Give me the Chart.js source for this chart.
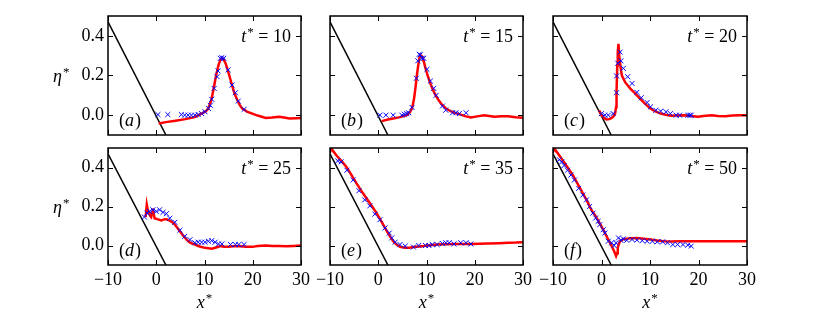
<!DOCTYPE html>
<html>
<head>
<meta charset="utf-8">
<script src="https://cdn.jsdelivr.net/npm/chart.js@4"></script>
<style>
  html, body { margin: 0; padding: 0; background: #fff; }
  #wrap { position: relative; width: 830px; height: 332px; }
  #wrap canvas { position: absolute; left: 0; top: 0; }
</style>
</head>
<body>
<div id="wrap"></div>
<script>
// ticks
const xTicks = [-10, 0, 10, 20, 30];
const yTicks = [0, 0.2, 0.4];

// sloping beach (same in every panel)
const beachX = [-10, 2];
const beachY = [0.47, -0.1];

// (a) t* = 10
const simXa = [0.5, 2, 4, 6, 8, 9.4, 10.3, 10.8, 11.4, 11.9, 12.4, 12.9, 13.3, 13.6, 14, 14.4, 14.7, 15.2, 15.7, 16.2, 16.8, 17.3, 17.8, 18.8, 19.9, 21, 22.7, 24, 25.5, 26.5, 27.6, 29, 30];
const simYa = [-0.042, -0.035, -0.028, -0.02, -0.01, 0.008, 0.02, 0.034, 0.075, 0.135, 0.2, 0.253, 0.28, 0.287, 0.28, 0.26, 0.236, 0.195, 0.152, 0.11, 0.076, 0.052, 0.034, 0.018, 0.008, -0.002, -0.014, -0.012, -0.008, -0.012, -0.017, -0.015, -0.014];
const expXa = [0.35, 2.4, 5.2, 5.9, 6.6, 7.3, 8, 8.7, 9.4, 10.1, 10.8, 11.2, 11.5, 12, 12.6, 12.8, 13.3, 13.6, 14, 14.9, 15.7, 16.4, 17, 18.2];
const expYa = [0.003, 0.003, 0.003, 0, 0, 0, 0, 0.003, 0.008, 0.017, 0.034, 0.05, 0.08, 0.135, 0.194, 0.223, 0.287, 0.29, 0.287, 0.228, 0.152, 0.113, 0.071, 0.029];

// (b) t* = 15
const simXb = [0.7, 2, 3.1, 4.5, 5.9, 6.5, 7, 7.4, 7.7, 8, 8.2, 8.5, 8.7, 9.1, 9.5, 9.8, 10.3, 10.8, 11.3, 11.9, 12.6, 13.3, 14, 15, 16, 17.1, 18, 19.2, 20.5, 22, 23, 24.1, 25.5, 26.9, 28.5, 30];
const simYb = [-0.03, -0.022, -0.017, -0.01, 0, 0.012, 0.034, 0.08, 0.135, 0.2, 0.236, 0.285, 0.304, 0.296, 0.265, 0.236, 0.195, 0.16, 0.13, 0.1, 0.072, 0.05, 0.035, 0.02, 0.01, 0.003, -0.005, -0.012, -0.006, 0, -0.004, -0.008, -0.006, -0.005, -0.01, -0.013];
const expXb = [0.35, 1.6, 3.1, 4.9, 5.4, 5.9, 6.3, 7, 7.9, 8.2, 8.5, 8.7, 9.1, 9.4, 10.1, 10.8, 11.5, 12, 13.3, 14, 15.4, 16.1, 16.8, 18.2];
const expYb = [0, 0, 0, 0, 0.005, 0.008, 0.012, 0.039, 0.186, 0.274, 0.307, 0.304, 0.287, 0.287, 0.231, 0.172, 0.135, 0.1, 0.046, 0.025, 0.012, 0.012, 0.008, 0.012];

// (c) t* = 20
const simXc = [-0.5, 0, 0.5, 1.05, 1.6, 2.1, 2.5, 2.8, 3.0, 3.1, 3.25, 3.35, 3.5, 3.7, 4.0, 4.2, 4.9, 5.9, 6.6, 7.3, 8, 8.7, 9.4, 10.1, 11, 12.2, 13.2, 14.3, 15.5, 17.1, 18.5, 19.9, 21, 22.7, 24, 25.5, 27, 28.5, 30];
const simYc = [0.025, 0, -0.014, -0.022, -0.02, -0.014, -0.005, 0.008, 0.04, 0.118, 0.25, 0.32, 0.36, 0.287, 0.23, 0.2, 0.165, 0.135, 0.118, 0.1, 0.082, 0.064, 0.048, 0.034, 0.02, 0.008, 0.002, -0.003, -0.002, 0, -0.004, -0.008, -0.004, 0, -0.004, -0.005, -0.002, 0, 0];
const expXc = [0, 0.7, 1.4, 2.4, 3.1, 3.1, 3.35, 3.85, 4, 4.5, 5.4, 6.3, 7.3, 8.2, 9.4, 10.1, 11.2, 12.2, 13.3, 14.2, 15.4, 16.1, 17.8, 18.2, 18.5];
const expYc = [0.008, 0, 0, 0.008, 0.113, 0.198, 0.262, 0.318, 0.274, 0.236, 0.194, 0.16, 0.115, 0.088, 0.064, 0.042, 0.025, 0.02, 0.017, 0.008, 0, 0, 0, 0, 0];

// (d) t* = 25
const simXd = [-2.2, -1.96, -1.7, -1.5, -1.2, -1.05, -0.85, -0.7, -0.5, -0.35, 0.2, 1.05, 1.75, 2.3, 2.8, 3.3, 3.85, 4.4, 4.9, 5.6, 6.3, 7, 8, 9, 10.1, 11.5, 12.4, 13.3, 14, 15, 16, 17.1, 18.5, 19.9, 21, 22.7, 24, 25.5, 27, 28.5, 30];
const simYd = [0.146, 0.21, 0.175, 0.166, 0.15, 0.146, 0.17, 0.19, 0.16, 0.14, 0.135, 0.129, 0.135, 0.133, 0.127, 0.12, 0.107, 0.09, 0.073, 0.05, 0.03, 0.015, 0.005, -0.005, -0.012, -0.017, -0.01, -0.003, -0.006, -0.007, -0.004, -0.003, -0.006, -0.007, -0.003, 0, -0.003, -0.002, -0.004, -0.002, 0];
const expXd = [-2.45, -1.9, -1.4, -0.7, 0, 0.7, 1.4, 2.1, 2.8, 3.85, 4.9, 5.9, 7, 8, 8.7, 9.4, 10.1, 10.8, 11.5, 12.2, 12.9, 13.6, 15.4, 16.4, 17.1, 18.2];
const expYd = [0.146, 0.166, 0.175, 0.183, 0.175, 0.183, 0.17, 0.163, 0.14, 0.119, 0.078, 0.047, 0.03, 0.014, 0.017, 0.017, 0.017, 0.022, 0.025, 0.017, 0.008, 0.008, 0.005, 0.005, 0.005, 0.005];

// (e) t* = 35
const simXe = [-10, -9.8, -8.7, -7.5, -6.6, -5.5, -4.5, -3.5, -2.45, -1.4, -0.35, 0.5, 1.4, 2.3, 3.1, 3.8, 4.5, 5.6, 6.5, 7.3, 8.5, 9.4, 10.8, 12.2, 14, 15.7, 17.5, 19.2, 21, 22.7, 25, 27, 28.5, 30];
const simYe = [0.51, 0.5, 0.463, 0.43, 0.403, 0.36, 0.319, 0.28, 0.242, 0.205, 0.166, 0.13, 0.09, 0.052, 0.022, 0.005, -0.007, -0.012, -0.011, -0.008, -0.005, -0.003, 0.001, 0.005, 0.007, 0.008, 0.008, 0.008, 0.009, 0.01, 0.012, 0.014, 0.015, 0.017];
const expXe = [-8.4, -7.7, -6.5, -5.2, -4, -2.8, -1.75, -0.7, 0.35, 1.4, 2.3, 2.8, 3.5, 4.5, 5.6, 7.3, 8.4, 9.8, 10.5, 11.2, 12.2, 13.3, 14, 14.7, 15.7, 17.1, 18.2, 19.2];
const expYe = [0.434, 0.429, 0.386, 0.336, 0.281, 0.234, 0.203, 0.161, 0.132, 0.09, 0.064, 0.039, 0.017, 0.005, -0.003, -0.008, 0, 0, 0, 0.005, 0.005, 0.01, 0.014, 0.014, 0.008, 0.014, 0.014, 0.008];

// (f) t* = 50
const simXf = [-10, -9.8, -8, -5.9, -3.85, -3, -2.45, -1.9, -1.4, -0.5, 0.35, 1.2, 2.1, 2.6, 3, 3.2, 3.35, 3.6, 3.85, 4.3, 4.9, 6, 7.3, 8.7, 10.1, 11.5, 12.9, 14.3, 15.7, 18, 19.9, 22, 24.1, 27, 30];
const simYf = [0.51, 0.5, 0.437, 0.361, 0.268, 0.23, 0.2, 0.175, 0.158, 0.12, 0.081, 0.04, -0.003, -0.03, -0.054, -0.04, -0.012, 0.01, 0.022, 0.03, 0.034, 0.037, 0.039, 0.035, 0.031, 0.026, 0.022, 0.021, 0.022, 0.022, 0.022, 0.022, 0.022, 0.022, 0.022];
const expXf = [-8.7, -8.2, -7.7, -7, -6.3, -5.6, -4.7, -3.85, -3.1, -2.45, -1.75, -1.2, -0.7, -0.35, 0.35, 0.7, 1.4, 2.1, 2.6, 3, 3.5, 4, 4.5, 5.2, 6.3, 7.3, 8.4, 9.4, 10.5, 11.5, 12.6, 13.6, 14.7, 15.7, 16.8, 17.8, 18.5];
const expYf = [0.44, 0.429, 0.41, 0.386, 0.361, 0.336, 0.293, 0.259, 0.234, 0.2, 0.166, 0.141, 0.124, 0.107, 0.081, 0.064, 0.022, 0.014, 0, 0.014, 0.039, 0.027, 0.034, 0.027, 0.031, 0.028, 0.025, 0.022, 0.022, 0.019, 0.019, 0.014, 0.005, 0.005, 0.005, 0.002, -0.003];

const letters = ["a", "b", "c", "d", "e", "f"];
const times = [10, 15, 20, 25, 35, 50];
const simX = [simXa, simXb, simXc, simXd, simXe, simXf];
const simY = [simYa, simYb, simYc, simYd, simYe, simYf];
const expX = [expXa, expXb, expXc, expXd, expXe, expXf];
const expY = [expYa, expYb, expYc, expYd, expYe, expYf];

// panel boxes in page pixels
const colLeft = [108, 330, 553];
const colRight = [301, 523, 747];
const rowTop = [16, 148];
const rowBottom = [135, 265];

const W = 830, H = 332;
const SERIF = "'Liberation Serif'";
const FS = 18;

const pts = (xs, ys) => xs.map((x, i) => ({ x: x, y: ys[i] }));

// draws t* / eta* / x* with italic letter and raised star
function starLabel(ctx, letter, rest, x, y, align) {
  ctx.font = "italic " + FS + "px " + SERIF;
  const wl = ctx.measureText(letter).width;
  ctx.font = (FS - 5) + "px " + SERIF;
  const ws = ctx.measureText("*").width;
  ctx.font = FS + "px " + SERIF;
  const wr = rest ? ctx.measureText(rest).width : 0;
  const total = wl + ws + 1 + wr;
  let x0 = x;
  if (align === "right") x0 = x - total;
  if (align === "center") x0 = x - total / 2;
  ctx.textAlign = "left";
  ctx.textBaseline = "alphabetic";
  ctx.font = "italic " + FS + "px " + SERIF;
  ctx.fillText(letter, x0, y);
  ctx.font = (FS - 5) + "px " + SERIF;
  ctx.fillText("*", x0 + wl + 1, y - 6);
  if (rest) {
    ctx.font = FS + "px " + SERIF;
    ctx.fillText(rest, x0 + wl + ws + 1, y);
  }
}

const decor = {
  id: "decor",
  afterDatasetsDraw(chart, args, opts) {
    const ctx = chart.ctx;
    const a = chart.chartArea;
    const xs = chart.scales.x, ys = chart.scales.y;
    ctx.save();
    ctx.strokeStyle = "#000";
    ctx.fillStyle = "#000";
    // inward ticks
    ctx.lineWidth = 1;
    const tl = 5;
    ctx.beginPath();
    xTicks.forEach(v => {
      const px = Math.round(xs.getPixelForValue(v)) + 0.5;
      ctx.moveTo(px, a.bottom); ctx.lineTo(px, a.bottom - tl);
      ctx.moveTo(px, a.top); ctx.lineTo(px, a.top + tl);
    });
    yTicks.forEach(v => {
      const py = Math.round(ys.getPixelForValue(v)) + 0.5;
      ctx.moveTo(a.left, py); ctx.lineTo(a.left + tl, py);
      ctx.moveTo(a.right, py); ctx.lineTo(a.right - tl, py);
    });
    ctx.stroke();
    // frame
    ctx.lineWidth = 1.5;
    ctx.strokeRect(a.left, a.top, a.right - a.left, a.bottom - a.top);

    // t* = ..
    starLabel(ctx, "t", " = " + opts.t, a.right - 10, a.top + 26, "right");

    // (a)
    ctx.textBaseline = "alphabetic";
    ctx.textAlign = "left";
    let x0 = a.left + 11;
    const yb = a.bottom - 9.5;
    ctx.font = FS + "px " + SERIF;
    ctx.fillText("(", x0, yb);
    x0 += ctx.measureText("(").width;
    ctx.font = "italic " + FS + "px " + SERIF;
    ctx.fillText(opts.letter, x0, yb);
    x0 += ctx.measureText(opts.letter).width + 1;
    ctx.font = FS + "px " + SERIF;
    ctx.fillText(")", x0, yb);

    // axis labels
    if (opts.col === 0) {
      starLabel(ctx, "\u03b7", "", 53, (a.top + a.bottom) / 2 + 6, "left");
    }
    if (opts.row === 1) {
      starLabel(ctx, "x", "", (a.left + a.right) / 2, 308, "center");
    }
    ctx.restore();
  }
};

const wrap = document.getElementById("wrap");

for (let k = 0; k < 6; k++) {
  const row = Math.floor(k / 3), col = k % 3;
  const canvas = document.createElement("canvas");
  canvas.width = W;
  canvas.height = H;
  canvas.style.width = W + "px";
  canvas.style.height = H + "px";
  wrap.appendChild(canvas);

  const yW = col === 0 ? 45 : 0;
  const xH = row === 1 ? 25 : 0;

  new Chart(canvas, {
    type: "scatter",
    data: {
      datasets: [
        {
          data: pts(expX[k], expY[k]),
          showLine: false,
          pointStyle: "crossRot",
          pointRadius: 3.5,
          borderColor: "#0000ff",
          backgroundColor: "#0000ff",
          borderWidth: 1,
          order: 0
        },
        {
          data: pts(simX[k], simY[k]),
          showLine: true,
          borderColor: "#ff0000",
          borderWidth: 2.5,
          pointRadius: 0,
          tension: 0,
          order: 1
        },
        {
          data: pts(beachX, beachY),
          showLine: true,
          borderColor: "#000000",
          borderWidth: 1.5,
          pointRadius: 0,
          order: 2
        }
      ]
    },
    plugins: [decor],
    options: {
      responsive: false,
      animation: false,
      devicePixelRatio: 1,
      events: [],
      layout: {
        padding: {
          left: colLeft[col] - yW,
          right: W - colRight[col],
          top: rowTop[row],
          bottom: H - rowBottom[row] - xH
        }
      },
      plugins: {
        legend: { display: false },
        tooltip: { enabled: false },
        decor: { letter: letters[k], t: times[k], row: row, col: col }
      },
      scales: {
        x: {
          type: "linear",
          min: -10,
          max: 30,
          grid: { display: false, drawTicks: false },
          border: { display: false },
          afterBuildTicks: s => { s.ticks = xTicks.map(v => ({ value: v })); },
          afterFit: s => { s.height = xH; },
          ticks: {
            display: row === 1,
            padding: 4,
            color: "#000",
            maxRotation: 0,
            font: { family: SERIF, size: FS },
            callback: v => String(v).replace("-", "\u2212")
          }
        },
        y: {
          type: "linear",
          min: -0.1,
          max: 0.5,
          grid: { display: false, drawTicks: false },
          border: { display: false },
          afterBuildTicks: s => { s.ticks = yTicks.map(v => ({ value: v })); },
          afterFit: s => { s.width = yW; },
          ticks: {
            display: col === 0,
            padding: 4,
            color: "#000",
            font: { family: SERIF, size: FS },
            callback: v => v.toFixed(1)
          }
        }
      }
    }
  });
}
</script>
</body>
</html>
